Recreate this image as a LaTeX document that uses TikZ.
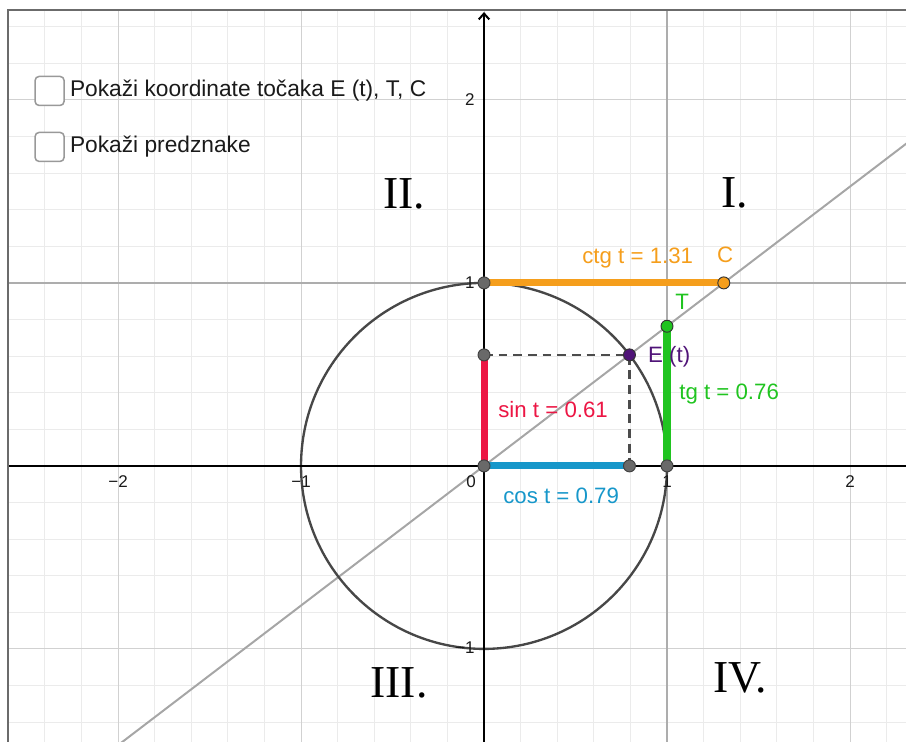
\documentclass[tikz,border=0pt]{standalone}
\usepackage{fontspec}
\setmainfont{Liberation Sans}
\newfontfamily\romanfont{Liberation Serif}
\usetikzlibrary{arrows.meta,calc,positioning}

\definecolor{ctgcol}{RGB}{245,158,28}
\definecolor{sincol}{RGB}{236,22,68}
\definecolor{coscol}{RGB}{23,151,202}
\definecolor{tgcol}{RGB}{32,196,32}
\definecolor{ecol}{RGB}{80,20,120}
\definecolor{dotgray}{RGB}{105,105,105}
\definecolor{txtcol}{RGB}{26,26,26}

\pgfmathsetmacro\tgval{tan(37.35)}
\pgfmathsetmacro\ctgval{cot(37.35)}

\begin{document}
\begin{tikzpicture}[x=5.49cm,y=5.49cm,
      >={Straight Barb[length=5pt,width=9pt]},
      gridminor/.style={draw=black!8,line width=0.85pt},
      gridmajor/.style={draw=black!18,line width=0.85pt},
      refline/.style={draw=black!32,line width=1.7pt},
      axisline/.style={draw=black,line width=1.7pt},
      unitcircle/.style={draw=black!72,line width=2pt},
      seg/.style={line width=6pt},
      helper/.style={draw=black!70,line width=1.8pt,dash pattern=on 7.5pt off 5pt},
      gdot/.style={circle,draw=black!75,fill=dotgray,line width=0.8pt,
          minimum size=0.36cm,inner sep=0pt},
      cdot/.style={gdot,draw=black!80},
      lbl/.style={font=\fontsize{19}{22}\selectfont,inner sep=0pt,anchor=base west},
      num/.style={font=\fontsize{14.5}{16}\selectfont,text=txtcol,inner sep=0pt},
      quad/.style={font=\romanfont\fontsize{39}{44}\selectfont,inner sep=0pt},
      chkbox/.style={rectangle,rounded corners=0.12cm,draw=black!40,fill=white,
          line width=1.3pt,minimum size=0.87cm,inner sep=0pt},
      chklbl/.style={font=\fontsize{19.4}{22}\selectfont,text=txtcol,inner sep=0pt}]
    \useasboundingbox (-2.645,-1.508) rectangle (2.306,2.546);

    \coordinate (O) at (0,0);
    \coordinate (E) at (37.35:1);
    \coordinate (Ex) at (E |- O);
    \coordinate (Ey) at (O |- E);
    \coordinate (U) at (1,0);
    \coordinate (V) at (0,1);
    \coordinate (T) at (1,\tgval);
    \coordinate (C) at (\ctgval,1);

    \begin{scope}
      \clip (-2.599,-1.508) rectangle (2.306,2.494);
      \draw[gridminor,step=0.2] (-2.8,-1.6) grid (2.4,2.6);
      \draw[gridmajor,step=1] (-2.8,-1.6) grid (2.4,2.6);
      \draw[refline] (1,-1.6) -- (1,2.6);
      \draw[refline] (-2.8,1) -- (2.4,1);
      \draw[refline,draw=black!35] ($(O)!-2.6!(E)$) -- ($(O)!3!(E)$);
      \draw[unitcircle] (O) circle[radius=1];
      \draw[axisline] (-2.7,0) -- (2.4,0);
      \draw[axisline,->] (0,-1.6) -- (0,2.48);
    \end{scope}
    \draw[draw=black!58,line width=1.7pt] (-2.599,-1.508) -- (-2.599,2.494) -- (2.306,2.494);

    \draw[seg,ctgcol] (V) -- (C);
    \draw[seg,sincol] (O) -- (Ey);
    \draw[seg,coscol] (O) -- (Ex);
    \draw[seg,tgcol] (U) -- (T);
    \draw[helper] (Ey) -- (E) -- (Ex);

    \node[gdot] (dV) at (V) {};
    \node[gdot] (dEy) at (Ey) {};
    \node[gdot] (dO) at (O) {};
    \node[gdot] (dEx) at (Ex) {};
    \node[gdot] (dU) at (U) {};
    \node[cdot,fill=ecol] (dE) at (E) {};
    \node[cdot,fill=tgcol] (dT) at (T) {};
    \node[cdot,fill=ctgcol] (dC) at (C) {};

    \node[lbl,text=ctgcol] (ctglbl) at (0.536,1.104) {ctg t = 1.31};
    \node[lbl,text=ctgcol] (clbl) at (1.273,1.109) {C};
    \node[lbl,text=tgcol] (tlbl) at (1.044,0.852) {T};
    \node[lbl,text=ecol] (elbl) at (0.896,0.563) {E (t)};
    \node[lbl,text=tgcol] (tglbl) at (1.066,0.361) {tg t = 0.76};
    \node[lbl,text=sincol] (sinlbl) at (0.077,0.262) {sin t = 0.61};
    \node[lbl,text=coscol] (coslbl) at (0.104,-0.208) {cos t = 0.79};

    \node[num] (xm2) at (-2,-0.087) {−2};
    \node[num] (xm1) at (-1,-0.087) {−1};
    \node[num] (x0) at (-0.071,-0.087) {0};
    \node[num] (x1) at (1,-0.087) {1};
    \node[num] (x2) at (2,-0.087) {2};
    \node[num] (y2) at (-0.077,2) {2};
    \node[num] (y1) at (-0.077,1) {1};
    \node[num] (ym1) at (-0.104,-0.995) {−1};

    \node[quad] (q2) at (-0.437,1.489) {II.};
    \node[quad] (q1) at (1.372,1.492) {I.};
    \node[quad] (q3) at (-0.464,-1.186) {III.};
    \node[quad] (q4) at (1.399,-1.161) {IV.};

    \node[chkbox] (box1) at (-2.374,2.049) {};
    \node[chkbox] (box2) at (-2.374,1.743) {};
    \node[chklbl,right=0.15cm of box1] (txt1) {Pokaži koordinate točaka E (t), T, C};
    \node[chklbl,right=0.15cm of box2] (txt2) {Pokaži predznake};
  \end{tikzpicture}
\end{document}
